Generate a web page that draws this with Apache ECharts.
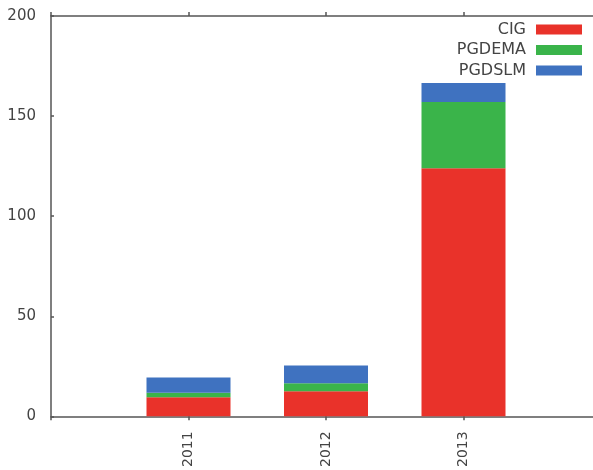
<!DOCTYPE html>
<html>
<head>
<meta charset="utf-8">
<script src="https://cdn.jsdelivr.net/npm/echarts@6/dist/echarts.min.js"></script>
<style>html,body{margin:0;padding:0;background:#fff;overflow:hidden}#c{width:601px;height:470px}</style>
</head>
<body>
<div id="c"></div>
<script>
var categories = ['', '2011', '2012', '2013', ''];
var cig = [null, 9.5, 12.6, 124, null];
var pgdema = [null, 2.3, 4, 33, null];
var pgdslm = [null, 7.6, 8.8, 9.5, null];
var yTicks = [0, 50, 100, 150, 200];

var chart = echarts.init(document.getElementById('c'), null, {renderer: 'canvas'});
var font = 'DejaVu Sans';
var axisColor = '#555';
chart.setOption({
  animation: false,
  backgroundColor: '#fff',
  grid: {left: 51, top: 16, bottom: 52, right: 0, containLabel: false},
  legend: {
    orient: 'vertical', right: 14, top: 16.5, align: 'right',
    icon: 'rect', itemWidth: 46, itemHeight: 10, itemGap: 4.5,
    textStyle: {fontFamily: font, fontSize: 16, color: '#444', padding: [0, 5, 0, 0]},
    data: ['CIG', 'PGDEMA', 'PGDSLM']
  },
  xAxis: [{
    type: 'category', data: categories, boundaryGap: false, position: 'bottom',
    axisLine: {lineStyle: {color: axisColor, width: 1.5}},
    axisTick: {inside: false, length: 4, lineStyle: {color: axisColor, width: 1.5}, interval: 0},
    axisLabel: {rotate: 90, margin: 15, interval: 0, fontFamily: font, fontSize: 14, color: '#444'},
    splitLine: {show: false}
  }, {
    type: 'category', data: categories, boundaryGap: false, position: 'top',
    axisLine: {lineStyle: {color: axisColor, width: 1.5}},
    axisTick: {inside: false, length: 4, lineStyle: {color: axisColor, width: 1.5}, interval: 0},
    axisLabel: {show: false},
    splitLine: {show: false}
  }],
  yAxis: {
    type: 'value', min: yTicks[0], max: yTicks[yTicks.length - 1], interval: 50,
    axisLine: {show: true, lineStyle: {color: axisColor, width: 1.5}},
    axisTick: {show: true, inside: true, length: 3, lineStyle: {color: axisColor, width: 1.5}},
    axisLabel: {margin: 15, fontFamily: font, fontSize: 15, color: '#444'},
    splitLine: {show: false}
  },
  series: [
    {name: 'CIG', type: 'bar', stack: 's', data: cig, barWidth: 84, itemStyle: {color: '#e9322a'}},
    {name: 'PGDEMA', type: 'bar', stack: 's', data: pgdema, barWidth: 84, itemStyle: {color: '#3ab44a'}},
    {name: 'PGDSLM', type: 'bar', stack: 's', data: pgdslm, barWidth: 84, itemStyle: {color: '#3f72c0'}}
  ]
});
</script>
</body>
</html>
